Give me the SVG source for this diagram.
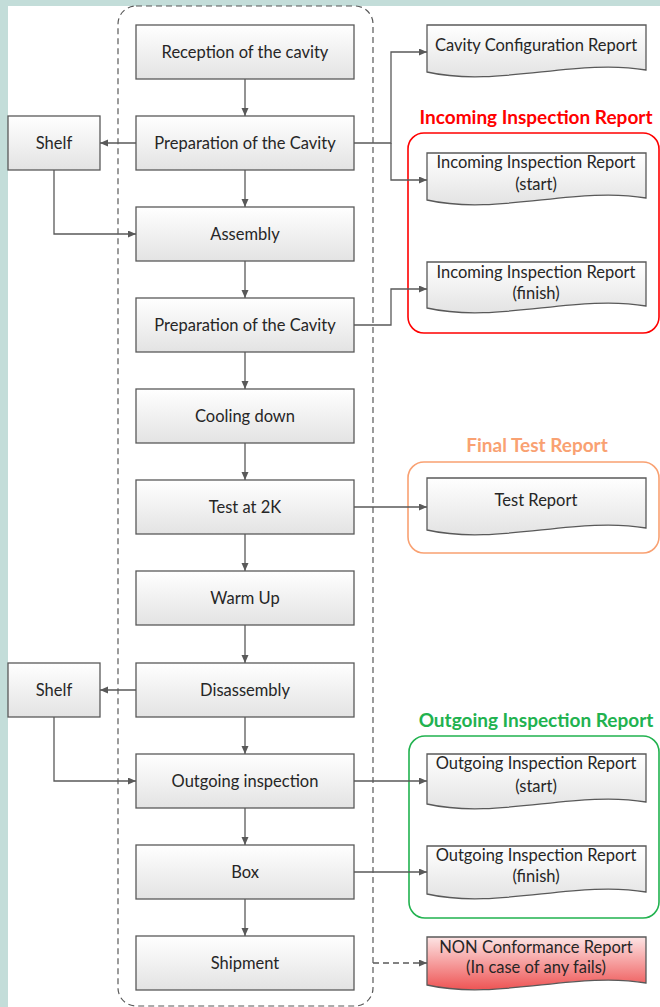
<svg xmlns="http://www.w3.org/2000/svg" width="660" height="1007" viewBox="0 0 660 1007">
<style>
.bg{fill:#c3ddd9}
.box{fill:url(#g);stroke:#595959;stroke-width:1.3}
.doc{fill:url(#g);stroke:#595959;stroke-width:1.3}
.t{font-family:Lato,"Liberation Sans",sans-serif;font-size:16.5px;fill:#262626;text-anchor:middle}
.ti{font-family:Lato,"Liberation Sans",sans-serif;font-size:19px;font-weight:bold;text-anchor:middle}
.c{fill:none;stroke:#595959;stroke-width:1.3;marker-end:url(#a)}
.grp{fill:none;stroke-width:1.6}
</style>
<defs>
<linearGradient id="g" x1="0" y1="0" x2="0" y2="1">
<stop offset="0" stop-color="#ffffff"/>
<stop offset="1" stop-color="#e3e3e3"/>
</linearGradient>
<linearGradient id="gr" x1="0" y1="0" x2="0" y2="1">
<stop offset="0" stop-color="#fde4e4"/>
<stop offset="1" stop-color="#ee5454"/>
</linearGradient>
<marker id="a" markerWidth="9" markerHeight="8" refX="8" refY="3.5" orient="auto" markerUnits="userSpaceOnUse">
<path d="M0,0 L8,3.5 L0,7 z" fill="#595959"/>
</marker>
</defs>
<rect x="0" y="0" width="660" height="1007" class="bg"/>
<rect x="8" y="6" width="652" height="1001" fill="#ffffff"/>
<rect id="container" x="118" y="6" width="255" height="1000" rx="18" fill="none" stroke="#595959" stroke-width="1.2" stroke-dasharray="6,4"/>

<g id="groups">
<rect x="408" y="133" width="251" height="200" rx="16" class="grp" stroke="#ff0000"/>
<text x="536" y="124" class="ti" fill="#ff0000">Incoming Inspection Report</text>
<rect x="408" y="462" width="251" height="91" rx="16" class="grp" stroke="#f9a172"/>
<text x="537" y="452" class="ti" fill="#f9a172">Final Test Report</text>
<rect x="409" y="736" width="250" height="182" rx="16" class="grp" stroke="#21b24f"/>
<text x="536" y="727" class="ti" fill="#21b24f">Outgoing Inspection Report</text>
</g>

<g id="connectors">
<path class="c" d="M245,79 V116"/>
<path class="c" d="M245,170 V207"/>
<path class="c" d="M245,261 V298"/>
<path class="c" d="M245,352 V389"/>
<path class="c" d="M245,443 V480"/>
<path class="c" d="M245,534 V571"/>
<path class="c" d="M245,625 V663"/>
<path class="c" d="M245,717 V754"/>
<path class="c" d="M245,808 V845"/>
<path class="c" d="M245,899 V936"/>
<path class="c" d="M136,143 H100"/>
<path class="c" d="M54,170 V234 H136"/>
<path class="c" d="M136,690 H100"/>
<path class="c" d="M54,717 V781 H136"/>
<path class="c" d="M354,143 H391 V52 H427"/>
<path class="c" d="M391,143 V180 H427"/>
<path class="c" d="M354,325 H391 V289 H427"/>
<path class="c" d="M354,507 H427"/>
<path class="c" d="M354,781 H427"/>
<path class="c" d="M354,872 H427"/>
<path class="c" d="M373,963 H427" stroke-dasharray="6,4"/>
</g>

<g id="n1"><rect x="136" y="25" width="218" height="54" class="box"/><text x="245" y="58" class="t">Reception of the cavity</text></g>
<g id="n2"><rect x="136" y="116" width="218" height="54" class="box"/><text x="245" y="149" class="t">Preparation of the Cavity</text></g>
<g id="n3"><rect x="136" y="207" width="218" height="54" class="box"/><text x="245" y="240" class="t">Assembly</text></g>
<g id="n4"><rect x="136" y="298" width="218" height="54" class="box"/><text x="245" y="331" class="t">Preparation of the Cavity</text></g>
<g id="n5"><rect x="136" y="389" width="218" height="54" class="box"/><text x="245" y="422" class="t">Cooling down</text></g>
<g id="n6"><rect x="136" y="480" width="218" height="54" class="box"/><text x="245" y="513" class="t">Test at 2K</text></g>
<g id="n7"><rect x="136" y="571" width="218" height="54" class="box"/><text x="245" y="604" class="t">Warm Up</text></g>
<g id="n8"><rect x="136" y="663" width="218" height="54" class="box"/><text x="245" y="696" class="t">Disassembly</text></g>
<g id="n9"><rect x="136" y="754" width="218" height="54" class="box"/><text x="245" y="787" class="t">Outgoing inspection</text></g>
<g id="n10"><rect x="136" y="845" width="218" height="54" class="box"/><text x="245" y="878" class="t">Box</text></g>
<g id="n11"><rect x="136" y="936" width="218" height="54" class="box"/><text x="245" y="969" class="t">Shipment</text></g>

<g id="shelf1"><rect x="8" y="116" width="92" height="54" class="box"/><text x="54" y="149" class="t">Shelf</text></g>
<g id="shelf2"><rect x="8" y="663" width="92" height="54" class="box"/><text x="54" y="696" class="t">Shelf</text></g>

<g id="d1"><path class="doc" d="M427,25 H646 V70 C576,58 497,88 427,72 Z"/><text x="536" y="51" class="t">Cavity Configuration Report</text></g>
<g id="d2"><path class="doc" d="M427,153 H646 V198 C576,186 497,216 427,200 Z"/><text x="536" y="168" class="t">Incoming Inspection Report</text><text x="536" y="190" class="t">(start)</text></g>
<g id="d3"><path class="doc" d="M427,262 H646 V306 C576,294 497,324 427,308 Z"/><text x="536" y="278" class="t">Incoming Inspection Report</text><text x="536" y="299" class="t">(finish)</text></g>
<g id="d4"><path class="doc" d="M427,478 H646 V528 C576,516 497,546 427,530 Z"/><text x="536" y="506" class="t">Test Report</text></g>
<g id="d5"><path class="doc" d="M427,754 H646 V802 C576,790 497,820 427,804 Z"/><text x="536" y="769" class="t">Outgoing Inspection Report</text><text x="536" y="792" class="t">(start)</text></g>
<g id="d6"><path class="doc" d="M427,846 H646 V892 C576,880 497,910 427,894 Z"/><text x="536" y="861" class="t">Outgoing Inspection Report</text><text x="536" y="882" class="t">(finish)</text></g>
<g id="d7"><path d="M427,937 H646 V983 C576,971 497,1001 427,985 Z" fill="url(#gr)" stroke="#595959" stroke-width="1.3"/><text x="536" y="953" class="t">NON Conformance Report</text><text x="536" y="973" class="t">(In case of any fails)</text></g>
</svg>
